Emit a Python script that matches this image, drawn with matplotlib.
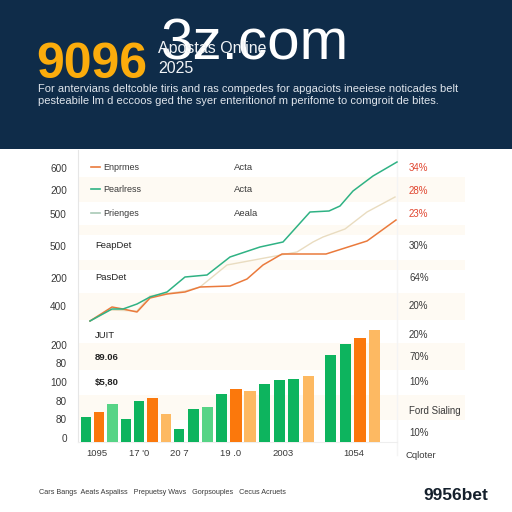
import matplotlib
matplotlib.use("Agg")
import matplotlib.pyplot as plt
from matplotlib.patches import Rectangle

plt.rcParams["font.family"] = ["Liberation Sans", "DejaVu Sans"]

NAVY = "#0f2c49"
GREEN = "#0db45e"
ORANGE = "#fb780c"
LT_GREEN = "#57d486"
LT_ORANGE = "#fdb962"
BAND = "#fefaf3"
LINE_ORANGE = "#ea7a3c"
LINE_GREEN = "#2fb284"
LINE_TAN = "#e9dcc0"
TEXT = "#3a3a3a"

# line series (x in chart units, y above the baseline)
green_x = [90, 112, 123, 137, 150, 167, 185, 207, 230, 260, 283, 310, 329, 340, 353, 373, 397]
green_y = [121, 133, 133, 138, 145, 150, 165, 167, 185, 195, 200, 230, 231, 236, 251, 266, 280]
orange_x = [90, 112, 123, 137, 150, 167, 185, 200, 230, 247, 263, 282, 326, 367, 396]
orange_y = [121, 135, 133, 130, 144, 148, 150, 155, 156, 163, 177, 188, 188, 201, 222]
tan_x = [90, 110, 137, 150, 185, 200, 227, 297, 313, 323, 345, 367, 395]
tan_y = [121, 132, 131, 146, 151, 155, 177, 190, 200, 205, 213, 230, 245]

# bars
bar_x = [86, 99, 112.5, 126, 139, 152.5, 166, 179, 193.5, 207.5, 221.5, 236, 250,
         264.5, 279.5, 293.5, 308.5, 330.5, 345.5, 360, 374.5]
bar_h = [25, 30, 38, 23, 41, 44, 28, 13, 33, 35, 48, 53, 51, 58, 62, 63, 66, 87, 98, 104, 112]
bar_w = [10, 10, 11, 10, 10, 11, 10, 10, 11, 11, 11, 12, 12, 11, 11, 11, 11, 11, 11, 12, 11]
bar_c = [GREEN, ORANGE, LT_GREEN, GREEN, GREEN, ORANGE, LT_ORANGE, GREEN, GREEN, LT_GREEN,
         GREEN, ORANGE, LT_ORANGE, GREEN, GREEN, GREEN, LT_ORANGE, GREEN, GREEN, ORANGE, LT_ORANGE]

# axis labels
left_ticks = [274, 252, 228, 196, 164, 136, 97, 79, 60, 41, 23, 4]
left_labels = ["600", "200", "500", "500", "200", "400", "200", "80", "100", "80", "80", "0"]
x_ticks = [97, 139, 179, 231, 283, 354]
x_labels = ["1095", "17 '0", "20 7", "19 .0", "2003", "1054"]
right_labels = ["34%", "28%", "23%", "30%", "64%", "20%", "20%", "70%", "10%", "Ford Sialing", "10%"]
right_y = [168, 191, 214, 246, 278, 306, 335, 357, 382, 411, 433]
right_colors = ["#e0452f"] * 3 + [TEXT] * 8

# pale bands, pixel rows top to bottom
band_top = [177, 225, 260, 293, 343, 395]
band_bot = [202, 235, 270, 320, 370, 420]

legend_names = ["Enprmes", "Pearlress", "Prienges"]
legend_right = ["Acta", "Acta", "Aeala"]
legend_y = [168, 190, 214]
legend_colors = [LINE_ORANGE, LINE_GREEN, "#a9c9b6"]
side_labels = ["FeapDet", "PasDet", "JUIT", "89.06", "$5,80"]
side_y = [246, 278, 335, 357, 382]

fig = plt.figure(figsize=(5.12, 5.12), dpi=100, facecolor="white")

# background layer in pixel coordinates: header, bands and free text
bg = fig.add_axes([0, 0, 1, 1], zorder=0)
bg.set_xlim(0, 512)
bg.set_ylim(512, 0)
bg.axis("off")
bg.add_patch(Rectangle((0, 0), 512, 149, facecolor=NAVY, edgecolor="none"))
for t, b in zip(band_top, band_bot):
    bg.add_patch(Rectangle((78, t), 387, b - t, facecolor=BAND, edgecolor="none"))
bg.plot([397, 397], [150, 455], color="#f4f4f4", lw=1)

bg.text(161, 60, "3z.com", color="white", fontsize=42, va="baseline", ha="left")
bg.text(36, 78, "9096", color="#fbac0c", fontsize=36, fontweight="bold", va="baseline")
bg.text(158, 53, "Apostas Online", color="#f0f3f6", fontsize=11.5, va="baseline")
bg.text(158, 73, "2025", color="#f0f3f6", fontsize=11.5, va="baseline")
bg.text(38, 92, "For antervians deltcoble tiris and ras compedes for apgaciots ineeiese noticades belt",
        color="#dfe5ec", fontsize=8, va="baseline")
bg.text(38, 104, "pesteabile lm d eccoos ged the syer enteritionof m perifome to comgroit de bites.",
        color="#dfe5ec", fontsize=8, va="baseline")

for name, right, y, c in zip(legend_names, legend_right, legend_y, legend_colors):
    bg.plot([91, 100], [y - 1, y - 1], color=c, lw=1.2)
    bg.text(103, y, name, color=TEXT, fontsize=6.5, va="center")
    bg.text(234, y, right, color=TEXT, fontsize=6.8, va="center")
for name, y in zip(side_labels, side_y):
    bold = name[0] in "8$"
    bg.text(95, y, name, color="#222222", fontsize=6.8, va="center",
            fontweight="bold" if bold else "normal")
for label, y, c in zip(right_labels, right_y, right_colors):
    bg.text(409, y, label, color=c, fontsize=7, va="center")
bg.text(405, 455, "Cqloter", color=TEXT, fontsize=6.8, va="center")
bg.text(39, 493, "Cars Bangs  Aeats Aspaliss   Prepuetsy Wavs   Gorpsouples   Cecus Acruets",
        color=TEXT, fontsize=5.2, va="center")
bg.text(423, 496, "9956bet", color="#15202c", fontsize=12.5, fontweight="bold", va="center")

# chart layer: x in pixels, y in pixels above the baseline at row 442
ax = fig.add_axes([0, 70 / 512, 1, 292 / 512], zorder=1)
ax.patch.set_alpha(0)
ax.set_xlim(0, 512)
ax.set_ylim(0, 292)
for side in ["top", "right"]:
    ax.spines[side].set_visible(False)
ax.spines["left"].set_position(("data", 78))
ax.spines["left"].set_color("#e6e6e6")
ax.spines["bottom"].set_color("#eeeeee")
ax.spines["bottom"].set_bounds(78, 397)

ax.bar(bar_x, bar_h, width=bar_w, color=bar_c, zorder=3)
ax.plot(tan_x, tan_y, color=LINE_TAN, lw=1, zorder=4)
ax.plot(orange_x, orange_y, color=LINE_ORANGE, lw=1.1, zorder=5)
ax.plot(green_x, green_y, color=LINE_GREEN, lw=1.1, zorder=6)

ax.set_yticks(left_ticks)
ax.set_yticklabels(left_labels, fontsize=7.2, color=TEXT)
ax.set_xticks(x_ticks)
ax.set_xticklabels(x_labels, fontsize=6.8, color=TEXT)
ax.tick_params(length=0)
ax.tick_params(axis="x", pad=5)
ax.tick_params(axis="y", pad=8)

fig.savefig("out.png", dpi=100)
